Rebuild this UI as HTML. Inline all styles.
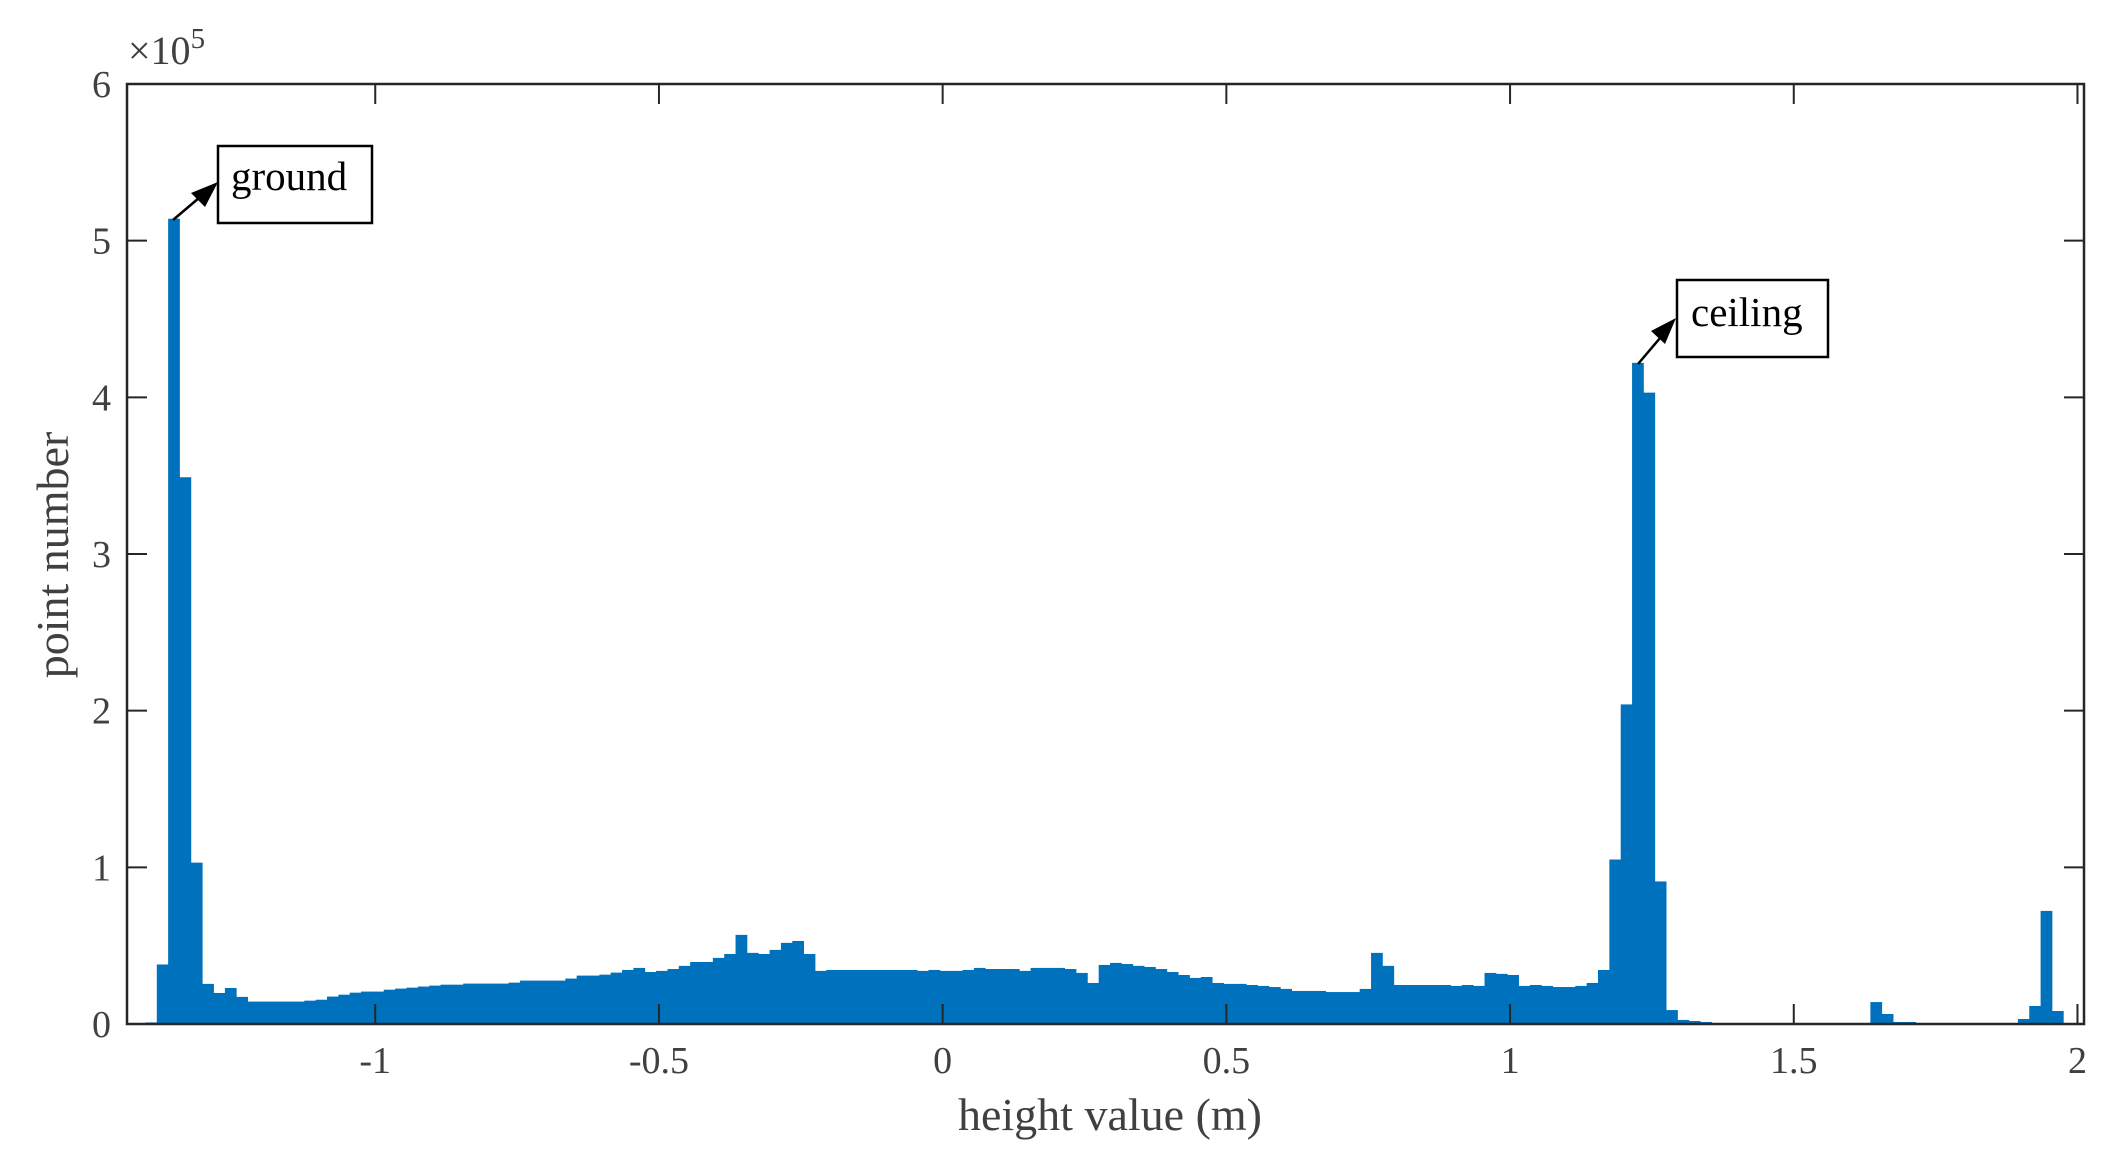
<!DOCTYPE html>
<html><head><meta charset="utf-8"><style>
html,body{margin:0;padding:0;background:#fff;}
svg{display:block;font-family:"Liberation Serif",serif;}
</style></head><body>
<svg id="chart" width="2117" height="1160" viewBox="0 0 2117 1160" xmlns="http://www.w3.org/2000/svg">
<g id="bars"></g>
<g id="axes"></g>
<g>
<line x1="173" y1="220" x2="206" y2="192" stroke="#000" stroke-width="2.5"/>
<polygon points="218,182 191,193 205,207" fill="#000"/>
<rect x="218" y="146" width="154" height="77" fill="#fff" stroke="#000" stroke-width="2.5"/>
<text x="231" y="190" font-size="41" fill="#000">ground</text>
</g>
<g>
<line x1="1638" y1="364" x2="1666" y2="331" stroke="#000" stroke-width="2.5"/>
<polygon points="1676,318 1651,331 1665,344" fill="#000"/>
<rect x="1677" y="280" width="151" height="77" fill="#fff" stroke="#000" stroke-width="2.5"/>
<text x="1691" y="326" font-size="41" fill="#000">ceiling</text>
</g>
</svg>
<script>
const binStart = -1.405;
const binWidth = 0.02;
const counts = [0.01,0.38,5.14,3.49,1.03,0.256,0.198,0.23,0.173,0.143,0.143,0.143,0.143,0.143,0.149,0.155,0.175,0.187,0.20,0.207,
0.207,0.219,0.226,0.232,0.239,0.245,0.251,0.251,0.258,0.258,0.258,0.258,0.264,0.277,0.277,0.277,0.277,0.29,0.309,0.309,
0.315,0.328,0.345,0.358,0.332,0.339,0.351,0.371,0.396,0.396,0.422,0.447,0.569,0.454,0.447,0.473,0.518,0.53,0.447,0.339,
0.345,0.345,0.345,0.345,0.345,0.345,0.345,0.345,0.339,0.345,0.339,0.339,0.345,0.358,0.351,0.351,0.351,0.339,0.358,0.358,
0.358,0.351,0.326,0.262,0.377,0.39,0.383,0.371,0.364,0.351,0.332,0.313,0.294,0.30,0.262,0.256,0.256,0.249,0.243,0.236,
0.224,0.211,0.211,0.211,0.204,0.204,0.204,0.224,0.454,0.371,0.249,0.249,0.249,0.249,0.249,0.243,0.249,0.243,0.326,0.32,
0.313,0.243,0.249,0.243,0.236,0.236,0.243,0.262,0.345,1.05,2.04,4.22,4.03,0.91,0.089,0.026,0.019,0.013,0.006,0.006,
0.006,0.006,0.006,0,0,0,0,0,0,0,0,0.006,0.14,0.064,0.013,0.013,0.006,0.006,0.006,0,0,
0,0,0,0.006,0.032,0.115,0.722,0.083];
const xTicks = [-1,-0.5,0,0.5,1,1.5,2];
const xTickLabels = ["-1","-0.5","0","0.5","1","1.5","2"];
const yTicks = [0,1,2,3,4,5,6];
const yTickLabels = ["0","1","2","3","4","5","6"];

const L=127, R=2084, T=84, B=1024;
const xMin=-1.4375, xMax=2.0115, yMax=6;
const sx = v => L + (v - xMin) / (xMax - xMin) * (R - L);
const sy = v => B - v / yMax * (B - T);
const NS="http://www.w3.org/2000/svg";
function mk(tag, attrs, parent){const e=document.createElementNS(NS,tag);for(const k in attrs)e.setAttribute(k,attrs[k]);parent.appendChild(e);return e;}

const gb=document.getElementById('bars');
counts.forEach((c,i)=>{
  const x0=sx(binStart+i*binWidth), x1=sx(binStart+(i+1)*binWidth);
  if(c<=0) return;
  const r=mk('rect',{x:x0,y:sy(c),width:x1-x0+0.4,height:B-sy(c),fill:'#0072BD'},gb);
  
  
});

const ga=document.getElementById('axes');
const box=mk('rect',{x:L,y:T,width:R-L,height:B-T,fill:'none',stroke:'#262626','stroke-width':2.5},ga);


xTicks.forEach((v,i)=>{
  const x=sx(v);
  mk('line',{x1:x,y1:B,x2:x,y2:B-20,stroke:'#262626','stroke-width':2},ga);
  mk('line',{x1:x,y1:T,x2:x,y2:T+20,stroke:'#262626','stroke-width':2},ga);
  const t=mk('text',{x:x,y:1073,'font-size':38,fill:'#404040','text-anchor':'middle'},ga);
  t.textContent=xTickLabels[i];
  
  
});
yTicks.forEach((v,i)=>{
  const y=sy(v);
  mk('line',{x1:L,y1:y,x2:L+20,y2:y,stroke:'#262626','stroke-width':2},ga);
  mk('line',{x1:R,y1:y,x2:R-20,y2:y,stroke:'#262626','stroke-width':2},ga);
  const t=mk('text',{x:111,y:y+13,'font-size':38,fill:'#404040','text-anchor':'end'},ga);
  t.textContent=yTickLabels[i];
  
  
});
const ex=mk('text',{x:128,y:64,'font-size':40,fill:'#404040'},ga);
ex.innerHTML='×10<tspan dy="-16" font-size="29">5</tspan>';


const xl=mk('text',{x:1110,y:1130,'font-size':46,fill:'#404040','text-anchor':'middle'},ga);
xl.textContent='height value (m)';


const yl=mk('text',{x:0,y:0,'font-size':46,fill:'#404040','text-anchor':'middle',transform:'translate(68,555) rotate(-90)'},ga);
yl.textContent='point number';


</script>
</body></html>
